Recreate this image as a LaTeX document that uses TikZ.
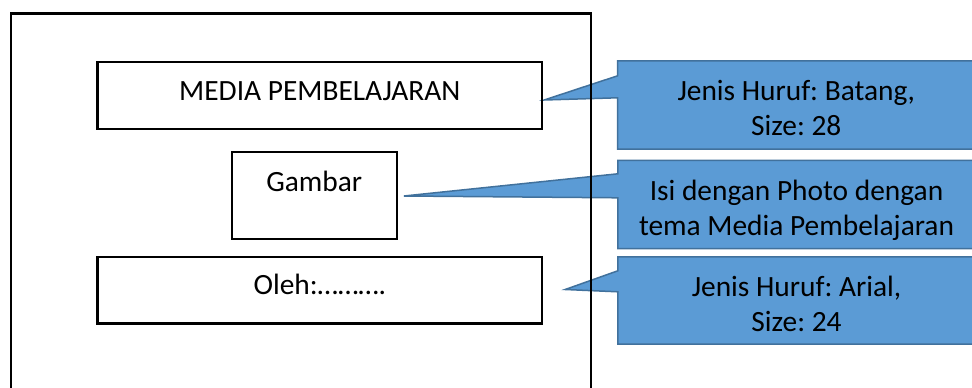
\documentclass[tikz,border=0pt]{standalone}
\usepackage{fontspec}
\setmainfont{Carlito}
\frenchspacing
\usetikzlibrary{positioning,backgrounds}
\definecolor{calFill}{HTML}{5B9BD5}
\definecolor{calLine}{HTML}{41719C}
\tikzset{
  page box/.style={draw=black, line width=2.4pt},
  text box/.style={draw=black, line width=2.4pt, inner sep=0pt, text height=19pt, text depth=8.4pt,
    font=\fontsize{29.4}{35}\selectfont},
  callout box/.style={inner sep=0pt, align=center, text=black, text height=67.4pt, text depth=6pt,
    minimum width=357pt, font=\fontsize{29.4}{35}\selectfont},
  callout edge/.style={fill=calFill, draw=calLine, line width=1.5pt, line join=miter},
}

\begin{document}
\begin{tikzpicture}[x=1pt,y=-1pt]
  \useasboundingbox (0,0) rectangle (972,388);
  % halaman sampul
  \draw[page box] (10.7,13.3) rectangle (591,400);
  \node[text box, minimum width=444.3pt, minimum height=67.3pt] (judul) at (319.8,95.4) {MEDIA PEMBELAJARAN};
  \node[text box, minimum width=165pt, minimum height=87pt, text depth=27.6pt] (gambar) at (314.2,195.5) {Gambar};
  \node[text box, minimum width=444.3pt, minimum height=66.5pt, text depth=11.6pt] (oleh) at (319.8,290.3) {Oleh:……….};

  % keterangan
  \node[callout box, minimum height=88pt] (ketJudul) at (796.3,105) {Jenis Huruf: Batang,\\Size: 28};
  \node[callout box, minimum height=88pt] (ketGambar) at (796.5,204.5) {Isi dengan Photo dengan\\tema Media Pembelajaran};
  \node[callout box, minimum height=87pt] (ketOleh) at (796.5,300.5) {Jenis Huruf: Arial,\\Size: 24};

  \coordinate (ujungJudul) at ([xshift=1pt,yshift=-4.6pt]judul.east);
  \coordinate (ujungGambar) at ([xshift=6pt,yshift=-0.5pt]gambar.east);
  \coordinate (ujungOleh) at ([xshift=22pt,yshift=0.8pt]oleh.east);

  \begin{scope}[on background layer]
  \draw[callout edge] (ketJudul.north east) -- (ketJudul.north west) -- ([yshift=-15pt]ketJudul.north west)
    -- (ujungJudul) -- ([yshift=-37pt]ketJudul.north west) -- (ketJudul.south west) -- (ketJudul.south east) -- cycle;
  \draw[callout edge] (ketGambar.north east) -- (ketGambar.north west) -- ([yshift=-13.5pt]ketGambar.north west)
    -- (ujungGambar) -- ([yshift=-37.5pt]ketGambar.north west) -- (ketGambar.south west) -- (ketGambar.south east) -- cycle;
  \draw[callout edge] (ketOleh.north east) -- (ketOleh.north west) -- ([yshift=-14pt]ketOleh.north west)
    -- (ujungOleh) -- ([yshift=-35pt]ketOleh.north west) -- (ketOleh.south west) -- (ketOleh.south east) -- cycle;
  \end{scope}
\end{tikzpicture}
\end{document}
